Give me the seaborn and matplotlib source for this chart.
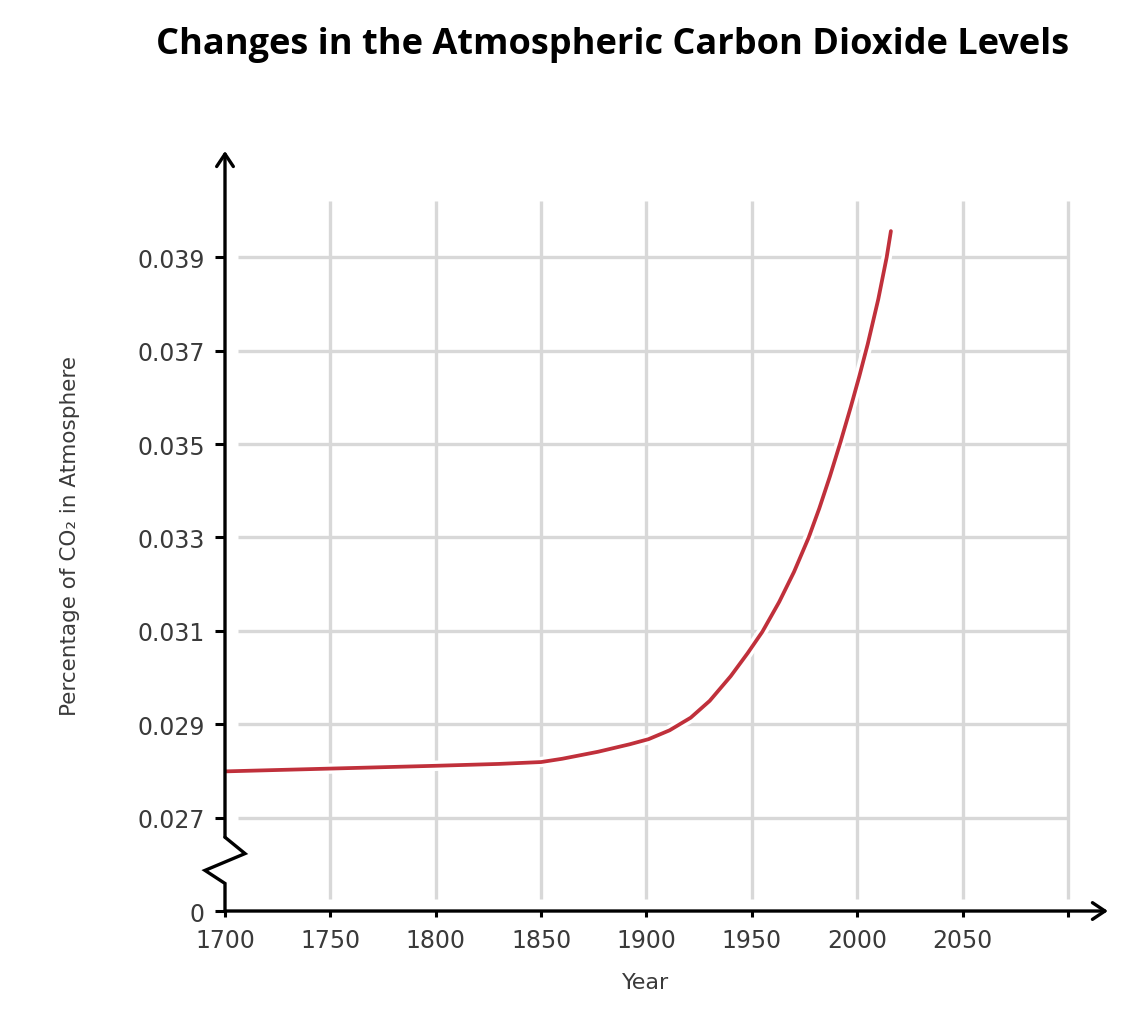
import matplotlib
matplotlib.use("Agg")
import matplotlib.pyplot as plt
import matplotlib.patheffects as pe
import seaborn as sns
import pandas as pd

# ---- data ----
years = [1700, 1750, 1800, 1830, 1850, 1860, 1877, 1892, 1901, 1911, 1921,
         1930, 1940, 1948, 1955, 1963, 1970, 1977, 1982, 1987, 1992, 1997,
         2001, 2005, 2010, 2014, 2016]
co2_pct = [0.02799, 0.02805, 0.02811, 0.02815, 0.02819, 0.02826, 0.02841,
           0.02857, 0.02868, 0.02887, 0.02914, 0.02950, 0.03003, 0.03052,
           0.03098, 0.03162, 0.03226, 0.03300, 0.03362, 0.03430, 0.03503,
           0.03580, 0.03645, 0.03714, 0.03810, 0.03900, 0.03956]
x_ticks = [1700, 1750, 1800, 1850, 1900, 1950, 2000, 2050, 2100]
x_tick_labels = ["1700", "1750", "1800", "1850", "1900", "1950", "2000", "2050", ""]
y_grid = [0.027, 0.029, 0.031, 0.033, 0.035, 0.037, 0.039]
y_tick_labels = ["0.027", "0.029", "0.031", "0.033", "0.035", "0.037", "0.039"]
axis_break_base = 0.025   # position where the "0" label sits (axis is broken)

title = "Changes in the Atmospheric Carbon Dioxide Levels"
xlabel = "Year"
ylabel = "Percentage of CO\u2082 in Atmosphere"

df = pd.DataFrame({"Year": years, "CO2": co2_pct})

sns.set_theme(style="white")
plt.rcParams["font.family"] = ["DejaVu Sans"]

fig = plt.figure(figsize=(11.32, 10.12), dpi=100)
ax = fig.add_axes([0.19876, 0.0988, 0.780, 0.751])

xmin, xmax = 1700, 2119
ymin, ymax = axis_break_base, 0.041275
ax.set_xlim(xmin, xmax)
ax.set_ylim(ymin, ymax)

grid_c = "#d8d8d8"
ax.hlines(y_grid, 1706, x_ticks[-1], colors=grid_c, lw=2.4, zorder=0)
ax.vlines(x_ticks[1:], 0.02526, 0.0402, colors=grid_c, lw=2.4, zorder=0)

sns.lineplot(data=df, x="Year", y="CO2", ax=ax, color="#c0303b", lw=2.7,
             zorder=3, estimator=None, sort=True,
             path_effects=[pe.Stroke(linewidth=7.5, foreground="white"), pe.Normal()])

for s in ax.spines.values():
    s.set_visible(False)

tick_font = dict(family=["DejaVu Sans"], size=17, color="#3a3a3a")
ax.set_xticks(x_ticks)
ax.set_xticklabels(x_tick_labels, fontdict=tick_font)
ax.set_yticks([axis_break_base] + y_grid)
ax.set_yticklabels(["0"] + y_tick_labels, fontdict=tick_font)
ax.tick_params(axis="both", colors="black", width=2.2)
ax.tick_params(axis="y", length=7.5, pad=7, left=True, labelcolor="#3a3a3a")
ax.tick_params(axis="x", length=4.5, pad=8, bottom=True, labelcolor="#3a3a3a")
ax.set_xlabel("")
ax.set_ylabel("")

axis_lw = 2.4
# x axis with arrow
ax.annotate("", xy=(1, 0), xycoords="axes fraction", xytext=(0, 0),
            textcoords="axes fraction",
            arrowprops=dict(arrowstyle="->,head_length=0.75,head_width=0.5",
                            lw=axis_lw, color="black", shrinkA=0, shrinkB=0))
# y axis (upper part) with arrow
ax.annotate("", xy=(0, 1), xycoords="axes fraction", xytext=(xmin, 0.02658),
            textcoords="data",
            arrowprops=dict(arrowstyle="->,head_length=0.75,head_width=0.5",
                            lw=axis_lw, color="black", shrinkA=0, shrinkB=0))
# zig-zag axis break
ax.plot([xmin, xmin + 9.5, xmin - 9.5, xmin, xmin],
        [0.02658, 0.02623, 0.02587, 0.02559, axis_break_base],
        color="black", lw=axis_lw, clip_on=False, zorder=4,
        solid_joinstyle="miter")

fig.text(0.5415, 0.9555, title, ha="center", va="center", fontsize=26,
         fontweight="bold", color="black", family=["Open Sans", "DejaVu Sans"])
fig.text(0.570, 0.0287, xlabel, ha="center", va="center", fontsize=16,
         color="#3a3a3a")
fig.text(0.062, 0.470, ylabel, ha="center", va="center", fontsize=15.5,
         rotation=90, color="#3a3a3a")

fig.savefig("out.png", dpi=100, facecolor="white")
